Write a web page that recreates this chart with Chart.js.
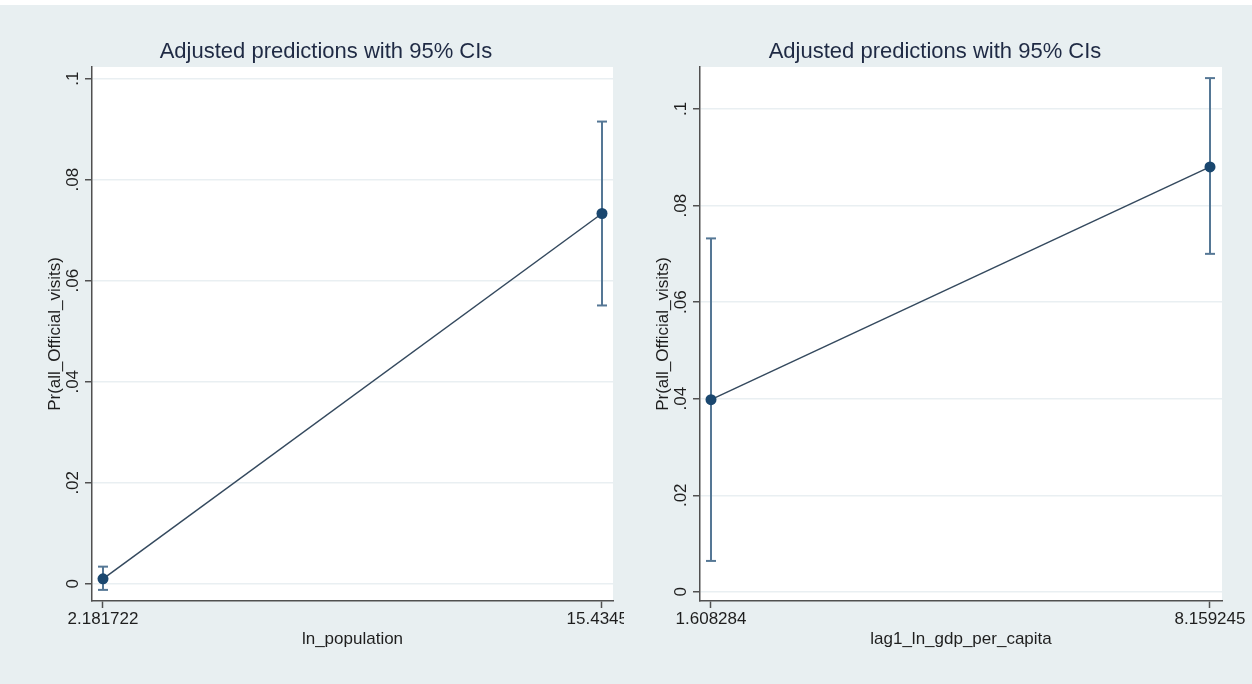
<!DOCTYPE html>
<html><head><meta charset="utf-8">
<script src="https://cdn.jsdelivr.net/npm/chart.js@4.4.1/dist/chart.umd.min.js"></script>
<style>
html,body{margin:0;padding:0;}
body{width:1252px;height:684px;overflow:hidden;position:relative;background:linear-gradient(#ffffff 0,#ffffff 5px,#e8eff1 5px,#e8eff1 100%);}
#p1{position:absolute;left:0;top:0;width:624px;height:684px;overflow:hidden;}
#p2{position:absolute;left:614px;top:0;width:638px;height:684px;overflow:hidden;}
canvas{display:block;}
</style></head><body>
<div id="p1"><canvas id="c1" width="700" height="684"></canvas></div>
<div id="p2"><canvas id="c2" width="638" height="684"></canvas></div>
<script>
const chartTitle = 'Adjusted predictions with 95% CIs';
const yAxisTitle = 'Pr(all_Official_visits)';
const yTicks = [0, 0.02, 0.04, 0.06, 0.08, 0.1];
const yTickLabels = ['0', '.02', '.04', '.06', '.08', '.1'];

// Left panel: ln_population
const popXTitle = 'ln_population';
const popX = [2.181722, 15.43452];
const popXLabels = ['2.181722', '15.43452'];
const popPred = [0.0010, 0.0733];
const popLow = [-0.0012, 0.0551];
const popHigh = [0.0034, 0.0915];

// Right panel: lag1_ln_gdp_per_capita
const gdpXTitle = 'lag1_ln_gdp_per_capita';
const gdpX = [1.608284, 8.159245];
const gdpXLabels = ['1.608284', '8.159245'];
const gdpPred = [0.0398, 0.0880];
const gdpLow = [0.0064, 0.0700];
const gdpHigh = [0.0732, 0.1064];

const FONT = "'Liberation Sans', Arial, Helvetica, sans-serif";
const TXT = '#1e1e1e';
const TITLE = '#1f2a44';
const AXIS = '#505050';
const GRID = '#e9eff2';
const LINE = '#34495e';
const MARK = '#1a476f';
const CI = '#557795';

const plotBg = {
  id: 'plotBg',
  beforeDraw(chart) {
    const {ctx, chartArea: a} = chart;
    ctx.save();
    ctx.fillStyle = '#ffffff';
    ctx.fillRect(a.left, a.top, a.right - a.left, a.bottom - a.top);
    ctx.restore();
  }
};

function makeDatasets(xs, pred, low, high) {
  const ds = [{
    data: xs.map((x, i) => ({x: x, y: pred[i]})),
    showLine: true, borderColor: LINE, borderWidth: 1.5,
    pointRadius: 5.5, pointBackgroundColor: MARK, pointBorderColor: MARK, pointBorderWidth: 0,
    order: 0
  }];
  xs.forEach((x, i) => {
    ds.push({
      data: [{x: x, y: low[i]}, {x: x, y: high[i]}],
      showLine: true, borderColor: CI, borderWidth: 2,
      pointStyle: 'line', pointRadius: 5, pointBorderColor: CI, pointBorderWidth: 2,
      order: 1
    });
  });
  return ds;
}

function makeChart(id, cfg) {
  return new Chart(document.getElementById(id), {
    type: 'scatter',
    data: {datasets: makeDatasets(cfg.xs, cfg.pred, cfg.low, cfg.high)},
    plugins: [plotBg],
    options: {
      responsive: false, animation: false, events: [],
      devicePixelRatio: 1,
      layout: {padding: cfg.pad},
      plugins: {
        legend: {display: false},
        tooltip: {enabled: false},
        title: {display: true, text: chartTitle, color: TITLE,
          font: {family: FONT, size: 22, weight: 'normal'},
          padding: {top: 39, bottom: 1.6}}
      },
      scales: {
        x: {
          type: 'linear', min: cfg.xMin, max: cfg.xMax,
          afterBuildTicks: s => { s.ticks = cfg.xs.map(v => ({value: v})); },
          afterFit: s => { s.height = 60; s.paddingLeft = 0; s.paddingRight = 0; },
          ticks: {callback: (v, i) => cfg.xLabels[i], font: {family: FONT, size: 17}, color: TXT,
            padding: 1, maxRotation: 0, minRotation: 0, autoSkip: false},
          grid: {display: true, drawOnChartArea: false, tickLength: 7, tickColor: AXIS, tickWidth: 1.5},
          border: {display: true, color: AXIS, width: 1.5},
          title: {display: true, text: cfg.xTitle, color: TXT, font: {family: FONT, size: 17},
            padding: {top: 0, bottom: 11}}
        },
        y: {
          type: 'linear', min: cfg.yMin, max: cfg.yMax,
          afterBuildTicks: s => { s.ticks = yTicks.map(v => ({value: v})); },
          afterFit: s => { s.width = cfg.yWidth; s.paddingTop = 0; s.paddingBottom = 0; },
          ticks: {callback: (v, i) => yTickLabels[i], font: {family: FONT, size: 17}, color: TXT,
            minRotation: 90, maxRotation: 90, crossAlign: 'center', padding: 0, autoSkip: false},
          grid: {color: GRID, lineWidth: 1.5, tickLength: 7, tickColor: AXIS, tickWidth: 1.5},
          border: {display: true, color: AXIS, width: 1.5},
          title: {display: true, text: yAxisTitle, color: TXT, font: {family: FONT, size: 17},
            padding: {top: cfg.yTitlePad, bottom: 0}}
        }
      }
    }
  });
}

makeChart('c1', {
  xs: popX, xLabels: popXLabels, pred: popPred, low: popLow, high: popHigh, xTitle: popXTitle,
  xMin: 1.8896, xMax: 15.7267, yMin: -0.0034, yMax: 0.1023,
  pad: {left: 39, right: 87, top: 0, bottom: 23}, yWidth: 53, yTitlePad: 6
});
makeChart('c2', {
  xs: gdpX, xLabels: gdpXLabels, pred: gdpPred, low: gdpLow, high: gdpHigh, xTitle: gdpXTitle,
  xMin: 1.4639, xMax: 8.3169, yMin: -0.0019, yMax: 0.1087,
  pad: {left: 34, right: 30, top: 0, bottom: 23}, yWidth: 52, yTitlePad: 5
});
</script>
</body></html>
